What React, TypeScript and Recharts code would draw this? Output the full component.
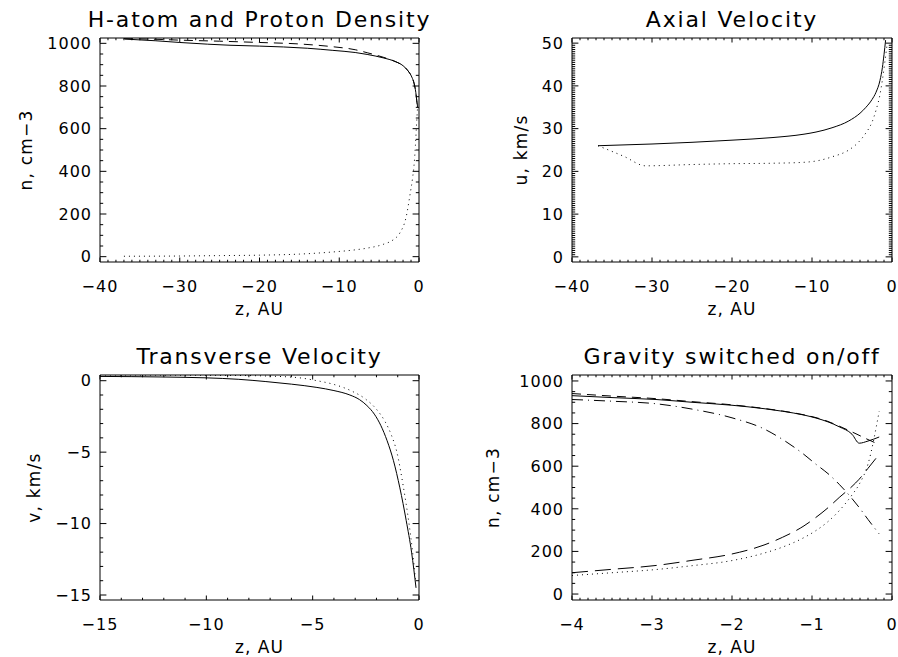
import React from 'react';
import { LineChart, Line, XAxis, YAxis, Label } from 'recharts';

const FONT = '"DejaVu Sans", Verdana, sans-serif';

// --- panel 1: H-atom and proton density vs z ---
const p1AtomZ = [-36.9, -33, -30, -26.5, -23.7, -20, -17, -14, -10.8, -8, -6.5, -4.5, -3, -2, -1.4, -0.9, -0.6, -0.4, -0.25, -0.15];
const p1AtomN = [1020, 1012, 1004, 996, 991, 987, 983, 977, 967, 957, 948, 932, 915, 895, 872, 842, 810, 770, 722, 698];
const p1NoGravZ = [-37, -33, -30, -25, -20, -15, -10.8, -8, -6.5, -4.5, -3, -2, -1.4, -0.9, -0.6, -0.4, -0.25, -0.15];
const p1NoGravN = [1022, 1019, 1015, 1010, 1004, 997, 984, 970, 956, 935, 915, 895, 872, 842, 810, 770, 722, 700];
const p1ProtonZ = [-37, -30, -25, -20, -15, -10.8, -8, -6.5, -4.4, -3.2, -2.4, -1.6, -1.1, -0.8, -0.6, -0.45, -0.3, -0.15];
const p1ProtonN = [2, 3, 5, 7, 12, 22, 32, 40, 59, 80, 111, 188, 297, 370, 438, 520, 625, 720];

// --- panel 2: axial velocity ---
const p2AtomZ = [-36.75, -30, -25, -20, -15, -11, -9.5, -7.5, -5.4, -4, -3.3, -2.5, -2, -1.5, -1.2, -1, -0.8];
const p2AtomU = [26.0, 26.4, 26.8, 27.3, 27.9, 28.7, 29.2, 30.2, 31.8, 33.6, 34.9, 36.8, 38.5, 41.3, 44.3, 47.3, 50.7];
const p2ProtonZ = [-36.75, -33.5, -30.8, -25, -20, -15, -11.2, -9, -7.5, -5.4, -4.2, -3.3, -2.5, -2, -1.5, -1.2, -0.9, -0.6];
const p2ProtonU = [26.0, 23.5, 21.3, 21.6, 21.8, 21.9, 22.1, 22.6, 23.4, 25.0, 26.8, 28.9, 31.5, 34.3, 38.0, 41.4, 45.5, 49.9];

// --- panel 3: transverse velocity ---
const p3AtomZ = [-15, -12, -10, -8.5, -7.2, -6, -4.8, -4, -3.25, -2.8, -2.45, -2.1, -1.8, -1.5, -1.2, -0.9, -0.6, -0.35, -0.14];
const p3AtomV = [0.3, 0.26, 0.2, 0.1, -0.06, -0.24, -0.47, -0.69, -1.0, -1.32, -1.74, -2.34, -3.12, -4.2, -5.6, -7.5, -9.8, -12.0, -14.5];
const p3ProtonZ = [-15, -10, -8, -7.2, -5.6, -4.8, -4, -3.2, -2.5, -2, -1.6, -1.3, -1.04, -0.75, -0.47, -0.3, -0.16];
const p3ProtonV = [0.4, 0.38, 0.36, 0.33, 0.2, 0.0, -0.26, -0.7, -1.3, -2.0, -2.85, -3.8, -5.0, -7.3, -10.0, -12.0, -14.0];

// --- panel 4: gravity switched on/off ---
const p4Z = [-4, -3.5, -2.95, -2.5, -2, -1.6, -1.37, -1.1, -0.95, -0.8, -0.66, -0.5, -0.41, -0.3, -0.16];
const p4AtomOn = [931, 922, 913, 900, 886, 870, 858, 840, 826, 808, 785, 750, 708, 718, 737];
const p4AtomOffZ = [-4, -3.5, -2.95, -2.5, -2, -1.6, -1.37, -1.1, -0.95, -0.8, -0.66, -0.45, -0.3, -0.18];
const p4AtomOff = [941, 929, 917, 903, 888, 871, 859, 841, 828, 810, 788, 752, 725, 705];
const p4DashDot = [913, 905, 893, 868, 827, 775, 726, 655, 609, 565, 515, 448, 406, 350, 282];
const p4LongDash = [100, 116, 134, 158, 188, 230, 266, 320, 360, 405, 453, 505, 539, 590, 656];
const p4Dotted = [87, 100, 115, 133, 157, 192, 220, 265, 298, 340, 391, 465, 515, 610, 858];

const zip = (zs: number[], vs: number[]) => zs.map((z, i) => ({ z, v: vs[i] }));
const range = (a: number, b: number, step: number) => {
  const out: number[] = [];
  const n = Math.round((b - a) / step);
  for (let i = 0; i <= n; i++) out.push(+(a + i * step).toFixed(6));
  return out;
};
const fmt = (v: number) => (v < 0 ? '\u2212' + Math.abs(v) : String(v));

const isMajor = (v: number, step: number) => Math.abs(v / step - Math.round(v / step)) < 1e-6;

function tickFor(side: string, major: number, len: number) {
  return (p: any) => {
    const { x, y } = p;
    const v = p.payload.value;
    const big = isMajor(v, major);
    const L = big ? len : len / 2;
    const lineStyle = { stroke: '#000', strokeWidth: 1 };
    if (side === 'bottom') {
      return (
        <g>
          <line x1={x} y1={y} x2={x} y2={y - L} {...lineStyle} />
          {big && (
            <text x={x} y={y + 30} textAnchor="middle" fontSize={16} fontFamily={FONT} letterSpacing={1} fill="#000">
              {fmt(v)}
            </text>
          )}
        </g>
      );
    }
    if (side === 'top') return <line x1={x} y1={y} x2={x} y2={y + L} {...lineStyle} />;
    if (side === 'left') {
      return (
        <g>
          <line x1={x} y1={y} x2={x + L} y2={y} {...lineStyle} />
          {big && (
            <text x={x - 8} y={y} dy="0.36em" textAnchor="end" fontSize={16} fontFamily={FONT} letterSpacing={1} fill="#000">
              {fmt(v)}
            </text>
          )}
        </g>
      );
    }
    return <line x1={x} y1={y} x2={x - L} y2={y} {...lineStyle} />;
  };
}

type Series = { data: { z: number; v: number }[]; dash?: string };

type PanelProps = {
  left: number;
  top: number;
  width: number;
  height: number;
  box: [number, number, number, number]; // plot left, top, right, bottom (chart coords)
  xDomain: [number, number];
  yDomain: [number, number];
  xMajor: number;
  xMinor: number;
  yMajor: number;
  yMinor: number;
  yTickFrom: number;
  yTickTo: number;
  title: string;
  yLabel: string;
  yLabelGap: number;
  series: Series[];
};

function Panel(props: PanelProps) {
  const { left, top, width, height, box, xDomain, yDomain, title, yLabel, yLabelGap, series } = props;
  const [bl, bt, br, bb] = box;
  const xTicks = range(xDomain[0], xDomain[1], props.xMinor);
  const yTicks = range(props.yTickFrom, props.yTickTo, props.yMinor);
  const cx = (bl + br) / 2;
  const cy = (bt + bb) / 2;
  const ylx = bl - yLabelGap;
  return (
    <div style={{ position: 'absolute', left, top }}>
      <LineChart
        width={width}
        height={height}
        margin={{ left: bl - 1, top: bt - 1, right: width - br - 1, bottom: height - bb - 1 }}
      >
        <XAxis
          xAxisId="b"
          dataKey="z"
          type="number"
          domain={xDomain}
          allowDataOverflow
          ticks={xTicks}
          interval={0}
          height={1}
          tickSize={0}
          tickMargin={0}
          tickLine={false}
          axisLine={{ stroke: '#000' }}
          tick={tickFor('bottom', props.xMajor, 4.5)}
        >
          <Label
            content={() => (
              <text x={cx} y={bb + 53} textAnchor="middle" fontSize={17} fontFamily={FONT} letterSpacing={1} fill="#000">
                z, AU
              </text>
            )}
          />
        </XAxis>
        <XAxis
          xAxisId="t"
          orientation="top"
          dataKey="z"
          type="number"
          domain={xDomain}
          allowDataOverflow
          ticks={xTicks}
          interval={0}
          height={1}
          tickSize={0}
          tickMargin={0}
          tickLine={false}
          axisLine={{ stroke: '#000' }}
          tick={tickFor('top', props.xMajor, 4.5)}
        >
          <Label
            content={() => (
              <text x={cx} y={bt - 11} textAnchor="middle" fontSize={22} fontFamily={FONT} letterSpacing={1.8} fill="#000">
                {title}
              </text>
            )}
          />
        </XAxis>
        <YAxis
          yAxisId="l"
          type="number"
          domain={yDomain}
          allowDataOverflow
          ticks={yTicks}
          interval={0}
          width={1}
          tickSize={0}
          tickMargin={0}
          tickLine={false}
          axisLine={{ stroke: '#000' }}
          tick={tickFor('left', props.yMajor, 6.4)}
        >
          <Label
            content={() => (
              <text
                x={ylx}
                y={cy}
                transform={`rotate(-90 ${ylx} ${cy})`}
                textAnchor="middle"
                fontSize={17}
                fontFamily={FONT}
                letterSpacing={1.2}
                fill="#000"
              >
                {yLabel}
              </text>
            )}
          />
        </YAxis>
        <YAxis
          yAxisId="r"
          orientation="right"
          type="number"
          domain={yDomain}
          allowDataOverflow
          ticks={yTicks}
          interval={0}
          width={1}
          tickSize={0}
          tickMargin={0}
          tickLine={false}
          axisLine={{ stroke: '#000' }}
          tick={tickFor('right', props.yMajor, 6.4)}
        />
        {series.map((s, i) => (
          <Line
            key={i}
            xAxisId="b"
            yAxisId="l"
            data={s.data}
            dataKey="v"
            type="monotone"
            stroke="#000"
            strokeWidth={1}
            strokeDasharray={s.dash}
            dot={false}
            activeDot={false}
            isAnimationActive={false}
          />
        ))}
      </LineChart>
    </div>
  );
}

export default function App() {
  return (
    <div style={{ position: 'absolute', left: 0, top: 0, width: 898, height: 657, background: '#fff', overflow: 'hidden' }}>
      <Panel
        left={0}
        top={0}
        width={449}
        height={328}
        box={[100, 38, 419, 262]}
        xDomain={[-40, 0]}
        yDomain={[-25, 1025]}
        xMajor={10}
        xMinor={1}
        yMajor={200}
        yMinor={50}
        yTickFrom={0}
        yTickTo={1000}
        title="H-atom and Proton Density"
        yLabel="n, cm−3"
        yLabelGap={68}
        series={[
          { data: zip(p1AtomZ, p1AtomN) },
          { data: zip(p1NoGravZ, p1NoGravN), dash: '9 6' },
          { data: zip(p1ProtonZ, p1ProtonN), dash: '1 4' },
        ]}
      />
      <Panel
        left={449}
        top={0}
        width={449}
        height={328}
        box={[123, 38, 443, 262]}
        xDomain={[-40, 0]}
        yDomain={[-1.2, 51.2]}
        xMajor={10}
        xMinor={1}
        yMajor={10}
        yMinor={0.5}
        yTickFrom={0}
        yTickTo={50}
        title="Axial Velocity"
        yLabel="u, km/s"
        yLabelGap={45}
        series={[
          { data: zip(p2AtomZ, p2AtomU) },
          { data: zip(p2ProtonZ, p2ProtonU), dash: '1 4' },
        ]}
      />
      <Panel
        left={0}
        top={328}
        width={449}
        height={329}
        box={[100, 47, 419, 272]}
        xDomain={[-15, 0]}
        yDomain={[-15.35, 0.4]}
        xMajor={5}
        xMinor={1}
        yMajor={5}
        yMinor={1}
        yTickFrom={-15}
        yTickTo={0}
        title="Transverse Velocity"
        yLabel="v, km/s"
        yLabelGap={60}
        series={[
          { data: zip(p3AtomZ, p3AtomV) },
          { data: zip(p3ProtonZ, p3ProtonV), dash: '1 4' },
        ]}
      />
      <Panel
        left={449}
        top={328}
        width={449}
        height={329}
        box={[123, 47, 443, 272]}
        xDomain={[-4, 0]}
        yDomain={[-28, 1028]}
        xMajor={1}
        xMinor={0.1}
        yMajor={200}
        yMinor={50}
        yTickFrom={0}
        yTickTo={1000}
        title="Gravity switched on/off"
        yLabel="n, cm−3"
        yLabelGap={73}
        series={[
          { data: zip(p4Z, p4AtomOn) },
          { data: zip(p4AtomOffZ, p4AtomOff), dash: '9 6' },
          { data: zip(p4Z, p4DashDot), dash: '11 5 1 5' },
          { data: zip(p4Z, p4LongDash), dash: '16 7' },
          { data: zip(p4Z, p4Dotted), dash: '1 4' },
        ]}
      />
    </div>
  );
}
